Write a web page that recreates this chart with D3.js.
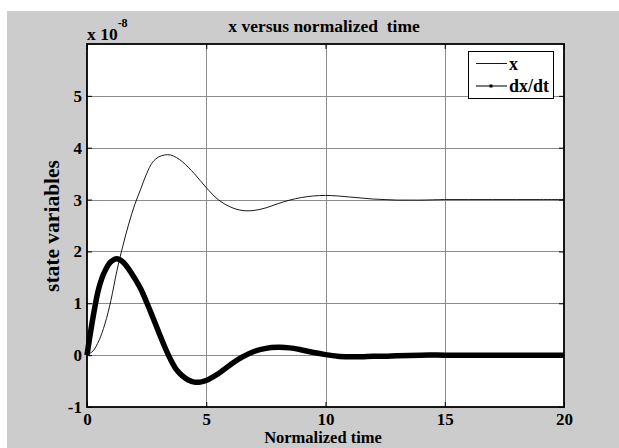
<!DOCTYPE html>
<meta charset="utf-8">
<style>
  body { margin: 0; background: #fff; }
  text { font-family: "Liberation Serif", "Times New Roman", serif; font-weight: bold; fill: #000; }
</style>
<body>
<svg width="619" height="448"></svg>
<script src="https://d3js.org/d3.v7.min.js"></script>
<script>
  // normalized time samples
  var tX = [0, 0.25, 0.5, 0.75, 1, 1.25, 1.5, 1.75, 2, 2.25, 2.5, 2.75, 3, 3.25, 3.5, 3.75, 4, 4.5, 5, 5.5, 6, 6.5, 7, 7.5, 8, 8.5, 9, 9.5, 10, 10.5, 11, 11.5, 12, 12.5, 13, 13.5, 14, 15, 16, 17, 18, 19, 20];
  // x (units of 1e-8)
  var xVals = [0, 0.08, 0.28, 0.6, 1.05, 1.62, 2.1, 2.53, 2.9, 3.2, 3.5, 3.72, 3.82, 3.86, 3.86, 3.81, 3.73, 3.5, 3.23, 3.0, 2.86, 2.79, 2.79, 2.84, 2.92, 2.99, 3.04, 3.07, 3.08, 3.07, 3.05, 3.03, 3.01, 3.0, 2.99, 2.99, 2.99, 3.0, 3.0, 3.0, 3.0, 3.0, 3.0];

  var tD = [0, 0.25, 0.5, 0.75, 1, 1.25, 1.5, 1.75, 2, 2.25, 2.5, 2.75, 3, 3.25, 3.5, 3.75, 4, 4.25, 4.5, 4.75, 5, 5.5, 6, 6.5, 7, 7.5, 8, 8.5, 9, 9.5, 10, 10.5, 11, 11.5, 12, 12.5, 13, 14, 15, 16, 17, 18, 19, 20];
  // dx/dt (units of 1e-8)
  var dxVals = [0, 0.72, 1.3, 1.62, 1.8, 1.86, 1.8, 1.66, 1.48, 1.28, 1.02, 0.74, 0.45, 0.17, -0.08, -0.28, -0.4, -0.48, -0.52, -0.52, -0.49, -0.36, -0.19, -0.04, 0.07, 0.13, 0.15, 0.14, 0.1, 0.05, 0.01, -0.02, -0.03, -0.03, -0.02, -0.02, -0.01, 0, 0, 0, 0, 0, 0, 0];

  var xTicks = [0, 5, 10, 15, 20];
  var yTicks = [-1, 0, 1, 2, 3, 4, 5];

  var svg = d3.select("svg");

  svg.append('rect')
    .attr('x', 7).attr('y', 11)
    .attr('width', 612).attr('height', 437)
    .attr('fill', '#cccccc');

  var pLeft = 87, pRight = 564, pTop = 44, pBottom = 407;

  var x = d3.scaleLinear().domain([0, 20]).range([pLeft, pRight]);
  var y = d3.scaleLinear().domain([-1, 6]).range([pBottom, pTop]);

  svg.append('rect')
    .attr('x', pLeft).attr('y', pTop)
    .attr('width', pRight - pLeft).attr('height', pBottom - pTop)
    .attr('fill', '#fff');

  // grid
  var grid = svg.append('g');
  grid.selectAll('.gx').data(xTicks.slice(1, -1)).enter().append('line')
    .attr('x1', function (d) { return Math.round(x(d)) + 0.5; })
    .attr('x2', function (d) { return Math.round(x(d)) + 0.5; })
    .attr('y1', pTop).attr('y2', pBottom)
    .attr('stroke', '#8c8c8c').attr('stroke-width', 1);
  grid.selectAll('.gy').data(yTicks.slice(1)).enter().append('line')
    .attr('y1', function (d) { return Math.round(y(d)) + 0.5; })
    .attr('y2', function (d) { return Math.round(y(d)) + 0.5; })
    .attr('x1', pLeft).attr('x2', pRight)
    .attr('stroke', '#8c8c8c').attr('stroke-width', 1);

  // curves
  var line = d3.line()
    .curve(d3.curveCatmullRom)
    .x(function (d) { return x(d[0]); })
    .y(function (d) { return y(d[1]); });

  svg.append('path')
    .datum(d3.zip(tD, dxVals))
    .attr('d', line)
    .attr('fill', 'none')
    .attr('stroke', '#000')
    .attr('stroke-width', 5.5)
    .attr('stroke-linejoin', 'round');

  svg.append('path')
    .datum(d3.zip(tX, xVals))
    .attr('d', line)
    .attr('fill', 'none')
    .attr('stroke', '#000')
    .attr('stroke-width', 0.9);

  // axes (ticks inward on all sides)
  var tickLen = 5;
  var fmt = function (d) { return String(d); };
  svg.append('g')
    .attr('transform', 'translate(0,' + pBottom + ')')
    .call(d3.axisBottom(x).tickValues(xTicks).tickFormat(fmt).tickSize(-tickLen).tickPadding(6))
    .call(function (g) {
      g.select('.domain').remove();
      g.selectAll('text').attr('font-size', 17).attr('font-family', null);
    });
  svg.append('g')
    .attr('transform', 'translate(0,' + pTop + ')')
    .call(d3.axisTop(x).tickValues(xTicks).tickSize(-tickLen).tickFormat(''))
    .call(function (g) { g.select('.domain').remove(); });
  svg.append('g')
    .attr('transform', 'translate(' + pLeft + ',0)')
    .call(d3.axisLeft(y).tickValues(yTicks).tickFormat(fmt).tickSize(-tickLen).tickPadding(5))
    .call(function (g) {
      g.select('.domain').remove();
      g.selectAll('text').attr('font-size', 17).attr('font-family', null);
    });
  svg.append('g')
    .attr('transform', 'translate(' + pRight + ',0)')
    .call(d3.axisRight(y).tickValues(yTicks).tickSize(-tickLen).tickFormat(''))
    .call(function (g) { g.select('.domain').remove(); });

  svg.append('rect')
    .attr('x', pLeft).attr('y', pTop)
    .attr('width', pRight - pLeft).attr('height', pBottom - pTop)
    .attr('fill', 'none')
    .attr('stroke', '#000')
    .attr('stroke-width', 1.8);

  // labels
  svg.append('text')
    .attr('x', 324).attr('y', 32)
    .attr('text-anchor', 'middle')
    .attr('font-size', 17.5)
    .style('white-space', 'pre')
    .text('x versus normalized  time');

  var expo = svg.append('text')
    .attr('x', 87).attr('y', 40)
    .attr('font-size', 17.5);
  expo.append('tspan').text('x 10');
  expo.append('tspan').attr('dy', -13).attr('font-size', 12).text('-8');

  svg.append('text')
    .attr('x', 323).attr('y', 443)
    .attr('text-anchor', 'middle')
    .attr('font-size', 16.5)
    .text('Normalized time');

  svg.append('text')
    .attr('transform', 'translate(59,226) rotate(-90)')
    .attr('text-anchor', 'middle')
    .attr('font-size', 21.5)
    .text('state variables');

  // legend
  var legend = svg.append('g');
  legend.append('rect')
    .attr('x', 468.5).attr('y', 51.5)
    .attr('width', 85).attr('height', 47)
    .attr('fill', '#fff')
    .attr('stroke', '#000')
    .attr('stroke-width', 1);
  legend.append('line')
    .attr('x1', 476).attr('x2', 507).attr('y1', 63.5).attr('y2', 63.5)
    .attr('stroke', '#000').attr('stroke-width', 0.9);
  legend.append('text')
    .attr('x', 509).attr('y', 70).attr('font-size', 18).text('x');
  legend.append('line')
    .attr('x1', 476).attr('x2', 507).attr('y1', 86).attr('y2', 86)
    .attr('stroke', '#333').attr('stroke-width', 1.3);
  legend.append('rect')
    .attr('x', 489.5).attr('y', 84.5).attr('width', 3).attr('height', 3)
    .attr('fill', '#000');
  legend.append('text')
    .attr('x', 509).attr('y', 92).attr('font-size', 18).text('dx/dt');
</script>
</body>
